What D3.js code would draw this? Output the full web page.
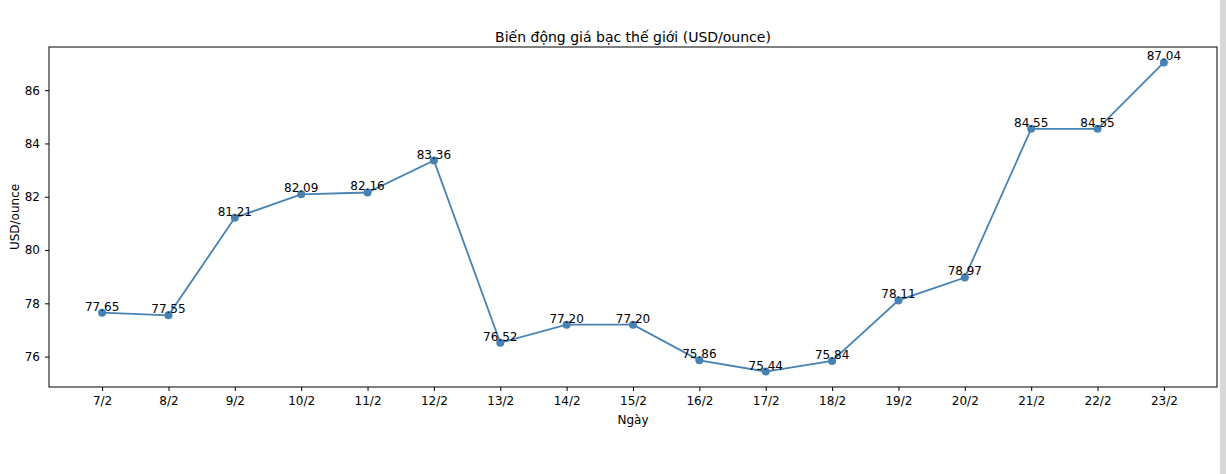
<!DOCTYPE html>
<html><head><meta charset="utf-8">
<script src="https://cdn.jsdelivr.net/npm/d3@7"></script>
<style>body{margin:0;background:#fff}svg{font-family:"DejaVu Sans",sans-serif}</style>
</head><body><svg id="c" width="1226" height="474"></svg>
<script>
const days = ["7/2","8/2","9/2","10/2","11/2","12/2","13/2","14/2","15/2","16/2","17/2","18/2","19/2","20/2","21/2","22/2","23/2"];
const prices = [77.65,77.55,81.21,82.09,82.16,83.36,76.52,77.20,77.20,75.86,75.44,75.84,78.11,78.97,84.55,84.55,87.04];
const yTicks = [76,78,80,82,84,86];

const svg = d3.select("#c");
const L = 49, R = 1217, T = 47, B = 387;
const color = "#4682b4";

const x = d3.scaleLinear().domain([-0.8, days.length - 1 + 0.8]).range([L, R]);
const ext = d3.extent(prices), pad = (ext[1] - ext[0]) * 0.05;
const y = d3.scaleLinear().domain([ext[0] - pad, ext[1] + pad]).range([B, T]);

// screenshot edge
svg.append("rect").attr("x", 1220).attr("y", 0).attr("width", 6).attr("height", 474).attr("fill", "#d8d8d8");

const xa = svg.append("g").attr("transform", `translate(0,${B})`)
  .call(d3.axisBottom(x).tickValues(d3.range(days.length)).tickFormat(i => days[i]).tickSize(4).tickPadding(5));
const ya = svg.append("g").attr("transform", `translate(${L},0)`)
  .call(d3.axisLeft(y).tickValues(yTicks).tickSize(4).tickPadding(5));
[xa, ya].forEach(a => {
  a.select(".domain").remove();
  a.selectAll("text").attr("font-size", 12).attr("fill", "#000").attr("font-family", "DejaVu Sans");
  a.selectAll("line").attr("stroke", "#000");
});
svg.append("rect").attr("x", L).attr("y", T).attr("width", R - L).attr("height", B - T)
  .attr("fill", "none").attr("stroke", "#000").attr("stroke-width", 1);

svg.append("path").datum(prices)
  .attr("d", d3.line().x((d, i) => x(i)).y(d => y(d)))
  .attr("fill", "none").attr("stroke", color).attr("stroke-width", 1.8);
svg.selectAll("circle.p").data(prices).join("circle")
  .attr("cx", (d, i) => x(i)).attr("cy", d => y(d)).attr("r", 4).attr("fill", color);
svg.selectAll("text.v").data(prices).join("text")
  .attr("x", (d, i) => x(i)).attr("y", d => y(d) - 2)
  .attr("text-anchor", "middle").attr("font-size", 12).text(d => d.toFixed(2));

svg.append("text").attr("x", (L + R) / 2).attr("y", 42).attr("text-anchor", "middle")
  .attr("font-size", 14).text("Biến động giá bạc thế giới (USD/ounce)");
svg.append("text").attr("x", (L + R) / 2).attr("y", 424).attr("text-anchor", "middle")
  .attr("font-size", 12).text("Ngày");
svg.append("text").attr("transform", `translate(19,${(T + B) / 2}) rotate(-90)`).attr("text-anchor", "middle")
  .attr("font-size", 12).text("USD/ounce");
</script></body></html>
